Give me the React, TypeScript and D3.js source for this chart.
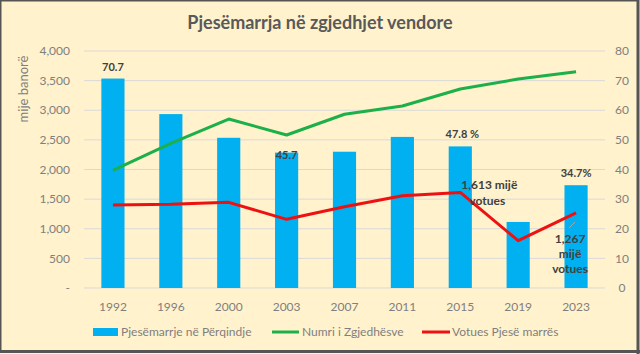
import * as d3 from "d3"

const years = ["1992", "1996", "2000", "2003", "2007", "2011", "2015", "2019", "2023"]
// participation, % (right axis)
const participation = [70.7, 58.7, 50.7, 45.7, 46.0, 51.0, 47.8, 22.3, 34.7]
// registered voters, thousands (left axis)
const registered = [1987, 2442, 2852, 2582, 2932, 3072, 3359, 3527, 3650]
// voters who took part, thousands (left axis)
const voters = [1401, 1412, 1446, 1159, 1372, 1558, 1613, 798, 1267]

const leftTicks = [0, 500, 1000, 1500, 2000, 2500, 3000, 3500, 4000]
const rightTicks = [0, 10, 20, 30, 40, 50, 60, 70, 80]

const barLabels: Record<string, string> = {
  "1992": "70.7",
  "2003": "45.7",
  "2015": "47.8 %",
  "2023": "34.7%",
}

export default function App() {
  const width = 640
  const height = 354
  const margin = { top: 51, right: 35, bottom: 66, left: 84 }
  const innerW = width - margin.left - margin.right
  const innerH = height - margin.top - margin.bottom

  const font = "Lato, 'Open Sans', sans-serif"
  const tickColor = "#7f7f7f"
  const labelColor = "#404040"
  const gridColor = "#d9d9d9"
  const barColor = "#00b0f0"
  const greenColor = "#1bb04a"
  const redColor = "#ee1111"

  const x = d3.scaleBand().domain(years).range([0, innerW]).paddingInner(0.6).paddingOuter(0.3)
  const yL = d3.scaleLinear().domain([0, 4000]).range([innerH, 0])
  const yR = d3.scaleLinear().domain([0, 80]).range([innerH, 0])
  const cx = (yr: string) => (x(yr) ?? 0) + x.bandwidth() / 2

  const line = d3
    .line<number>()
    .x((_, i) => cx(years[i]))
    .y((d) => yL(d))

  const fmt = (v: number) => (v === 0 ? "-" : d3.format(",")(v))

  const i15 = years.indexOf("2015")
  const i23 = years.indexOf("2023")

  return (
    <div style={{ position: "fixed", left: 0, top: 0 }}>
      <svg width={width} height={height} style={{ display: "block", fontFamily: font }}>
        <rect x={0} y={0} width={width} height={height} fill="#fff2cc" />
        <rect x={0.75} y={0.75} width={width - 2.5} height={height - 3} fill="none" stroke="#555" strokeWidth={1.5} />
        <line x1={width - 2} x2={width - 2} y1={0} y2={height} stroke="#555" strokeWidth={3} />
        <line x1={0} x2={width} y1={height - 2.5} y2={height - 2.5} stroke="#555" strokeWidth={3} />

        <text x={320} y={29} textAnchor="middle" fontSize={18} fontWeight="bold" fill="#595959">
          Pjesëmarrja në zgjedhjet vendore
        </text>

        <text
          transform={`translate(28,${margin.top + 38}) rotate(-90)`}
          textAnchor="middle"
          fontSize={13}
          fill={tickColor}
        >
          mije banorë
        </text>

        <g transform={`translate(${margin.left},${margin.top})`}>
          {/* Grid */}
          {leftTicks.map((t) => (
            <line key={t} x1={0} x2={innerW} y1={yL(t)} y2={yL(t)} stroke={gridColor} strokeWidth={1} />
          ))}

          {/* Left axis */}
          {leftTicks.map((t) => (
            <text key={t} x={-14} y={yL(t)} dy="0.35em" textAnchor="end" fontSize={12} fill={tickColor}>
              {fmt(t)}
            </text>
          ))}

          {/* Right axis */}
          {rightTicks.map((t) => (
            <text key={t} x={innerW + 17} y={yR(t)} dy="0.35em" textAnchor="middle" fontSize={12} fill={tickColor}>
              {t}
            </text>
          ))}

          {/* Bars */}
          {participation.map((v, i) => (
            <rect
              key={years[i]}
              x={x(years[i])}
              y={yR(v)}
              width={x.bandwidth()}
              height={innerH - yR(v)}
              fill={barColor}
            />
          ))}

          {/* X axis labels */}
          {years.map((yr) => (
            <text key={yr} x={cx(yr)} y={innerH + 23} textAnchor="middle" fontSize={12} fill={tickColor}>
              {yr}
            </text>
          ))}

          {/* Lines */}
          <path d={line(registered) ?? ""} fill="none" stroke={greenColor} strokeWidth={3} strokeLinejoin="round" />
          <path d={line(voters) ?? ""} fill="none" stroke={redColor} strokeWidth={3} strokeLinejoin="round" />

          {/* Bar labels */}
          {years.map((yr, i) =>
            barLabels[yr] ? (
              <text
                key={yr}
                x={cx(yr) + (yr === "2015" ? 2 : 0)}
                y={yr === "2003" ? yR(participation[i]) + 6 : yR(participation[i]) - 8}
                textAnchor="middle"
                fontSize={11}
                fontWeight="bold"
                fill={labelColor}
              >
                {barLabels[yr]}
              </text>
            ) : null
          )}

          {/* Voter labels */}
          <text x={cx(years[i15]) + 29} y={yL(voters[i15]) - 3} textAnchor="middle" fontSize={12} fontWeight="bold" fill={labelColor}>
            {d3.format(",")(voters[i15])} mijë
          </text>
          <text x={cx(years[i15]) + 27} y={yL(voters[i15]) + 13} textAnchor="middle" fontSize={12} fontWeight="bold" fill={labelColor}>
            votues
          </text>
          <line
            x1={cx(years[i23]) - 1}
            y1={yL(voters[i23]) + 9}
            x2={cx(years[i23]) - 7}
            y2={yL(voters[i23]) + 15}
            stroke="#a6a6a6"
            strokeWidth={1}
          />
          {[d3.format(",")(voters[i23]), "mijë", "votues"].map((s, k) => (
            <text
              key={k}
              x={cx(years[i23]) - 6}
              y={yL(voters[i23]) + 30 + k * 15}
              textAnchor="middle"
              fontSize={12}
              fontWeight="bold"
              fill={labelColor}
            >
              {s}
            </text>
          ))}
        </g>

        {/* Legend */}
        <g fontSize={12} fill={tickColor}>
          <rect x={93} y={328} width={25} height={8} fill={barColor} />
          <text x={121} y={336} fill={tickColor}>Pjesëmarrje në Përqindje</text>
          <line x1={272} x2={299} y1={332} y2={332} stroke={greenColor} strokeWidth={3} />
          <text x={302} y={336} fill={tickColor}>Numri i Zgjedhësve</text>
          <line x1={422} x2={450} y1={332} y2={332} stroke={redColor} strokeWidth={3} />
          <text x={452} y={336} fill={tickColor}>Votues Pjesë marrës</text>
        </g>
      </svg>
    </div>
  )
}
